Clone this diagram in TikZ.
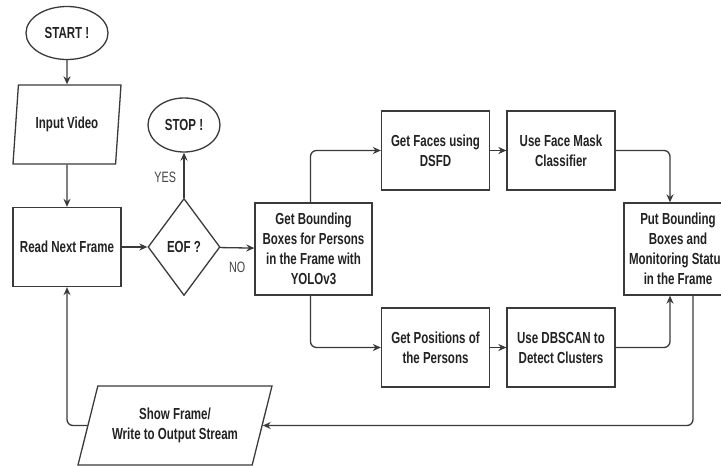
\documentclass[tikz,border=0pt]{standalone}
\usepackage{fontspec}
\setmainfont[FakeStretch=0.72]{Liberation Sans}
\usepackage{tikz}
\usetikzlibrary{arrows.meta,shapes.geometric}
\definecolor{linec}{HTML}{3A3A3A}
\definecolor{textc}{HTML}{222222}
\newcommand\boxfont{\fontsize{16}{20}\selectfont\bfseries}
\tikzset{
  box/.style={draw=linec, line width=1.3pt, align=center, font=\boxfont, text=textc, inner sep=2pt, minimum width=108pt, minimum height=79pt},
  term/.style={box, ellipse, minimum width=82pt, minimum height=53pt},
  io/.style={box, trapezium, trapezium stretches body, trapezium left angle=74, trapezium right angle=106},
  dec/.style={box, diamond, inner sep=0pt, minimum width=72pt, minimum height=97pt},
  lbl/.style={font=\fontsize{15}{16}\selectfont, text=textc!85},
  fl/.style={-{Stealth[length=8pt,width=7pt]}, line width=1.3pt, draw=linec, rounded corners=6pt},
}
\begin{document}
\begin{tikzpicture}[x=1pt, y=-1pt]
  \useasboundingbox (0,0) rectangle (721,466);
  \node[term] (start) at (67,33) {START !};
  \node[io] (input) at (67,124.5) {Input Video};
  \node[box] (read) at (67,247) {Read Next Frame};
  \node[dec] (eof) at (184,247) {EOF ?};
  \node[term, minimum width=72pt, minimum height=54pt] (stop) at (184,125) {STOP !};
  \node[box, minimum width=117pt, minimum height=92pt] (bb) at (313.5,249) {Get Bounding\\Boxes for Persons\\in the Frame with\\YOLOv3};
  \node[box] (faces) at (435.5,150.5) {Get Faces using\\DSFD};
  \node[box] (mask) at (561,150.5) {Use Face Mask\\Classifier};
  \node[box, minimum height=92pt] (put) at (678,249) {Put Bounding\\Boxes and\\Monitoring Status\\in the Frame};
  \node[box] (pos) at (435.5,347.5) {Get Positions of\\the Persons};
  \node[box] (dbscan) at (561,347.5) {Use DBSCAN to\\Detect Clusters};
  \node[io, trapezium left angle=63, trapezium right angle=117, minimum width=194pt] (show) at (175,425.5) {Show Frame/\\Write to Output Stream};
  \foreach \a/\b in {start/input,input/read,read/eof,faces/mask,pos/dbscan} \draw[fl] (\a)--(\b);
  \draw[fl] (eof) -- node[lbl, left=4pt, pos=0.45] (yes) {YES} (stop);
  \draw[fl] (eof) -- node[lbl, below=10pt, pos=0.5] (no) {NO} (bb);
  \draw[fl] ([xshift=-3pt]bb.north) |- (faces);
  \draw[fl] ([xshift=-3pt]bb.south) |- (pos);
  \draw[fl] (mask) -| ([xshift=-8pt]put.north);
  \draw[fl] (dbscan) -| ([xshift=-8pt]put.south);
  \draw[fl] ([xshift=15pt]put.south) |- (show);
  \draw[fl] (show) -| (read);
\end{tikzpicture}
\end{document}
